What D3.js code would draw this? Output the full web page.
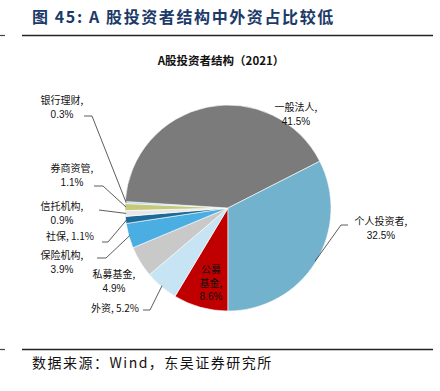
<!DOCTYPE html>
<html lang="zh">
<head>
<meta charset="UTF-8">
<title>A股投资者结构</title>
<style>
  body { margin: 0; background: #fff; }
  svg { display: block; }
  .cn { font-family: "Noto Sans CJK SC", sans-serif; }
  .num { font-family: "Liberation Sans", Arial, sans-serif; }
</style>
</head>
<body>
<svg width="440" height="391"></svg>
<script src="https://d3js.org/d3.v7.min.js"></script>
<script>
  const categories = ["公募基金", "外资", "私募基金", "保险机构", "社保", "信托机构", "券商资管", "银行理财", "一般法人", "个人投资者"];
  const values = [8.6, 5.2, 4.9, 3.9, 1.1, 0.9, 1.1, 0.3, 41.5, 32.5];
  const colors = ["#c00000", "#c6e4f4", "#c9c9c9", "#4aaee2", "#1b6a98", "#e8e8e8", "#c6c97c", "#a8d3e8", "#7b7b7b", "#73b2cc"];

  // label placement: centre x, first line y, lines, leader elbow
  const labelPos = {
    "银行理财": { x: 62, y: 104, lines: ["银行理财,", "0.3%"], lx: [84, 92], ly: 116 },
    "券商资管": { x: 72, y: 172, lines: ["券商资管,", "1.1%"], lx: [94, 103], ly: 186 },
    "信托机构": { x: 62, y: 210, lines: ["信托机构,", "0.9%"], lx: [99, 99], ly: 210 },
    "社保":     { x: 70, y: 240, lines: ["社保, 1.1%"], lx: [102, 108], ly: 242 },
    "保险机构": { x: 62, y: 259, lines: ["保险机构,", "3.9%"], lx: [97, 106], ly: 258 },
    "私募基金": { x: 114, y: 278, lines: ["私募基金,", "4.9%"] },
    "外资":     { x: 115, y: 312, lines: ["外资, 5.2%"], lx: [143, 150], ly: 310 },
    "一般法人": { x: 296, y: 111, lines: ["一般法人,", "41.5%"] },
    "个人投资者": { x: 381, y: 225, lines: ["个人投资者,", "32.5%"], lx: [348, 341], ly: 225 },
    "公募基金": { x: 211, y: 273, lines: ["公募", "基金,", "8.6%"] }
  };

  const svg = d3.select("svg");
  const cx = 228, cy = 208, r = 103;

  // header
  svg.append("text").attr("class", "cn")
    .attr("x", 32).attr("y", 23)
    .attr("font-size", 16).attr("font-weight", "bold").attr("fill", "#1c3a68")
    .attr("letter-spacing", 1.6)
    .text("图 45: A 股投资者结构中外资占比较低");
  svg.append("line").attr("x1", 22).attr("x2", 433).attr("y1", 35.5).attr("y2", 35.5)
    .attr("stroke", "#222").attr("stroke-width", 1.6);
  svg.append("line").attr("x1", 0).attr("x2", 5).attr("y1", 35.5).attr("y2", 35.5)
    .attr("stroke", "#444").attr("stroke-width", 1.2);

  svg.append("text").attr("class", "cn")
    .attr("x", 221).attr("y", 65).attr("text-anchor", "middle")
    .attr("font-size", 11.5).attr("font-weight", "bold").attr("fill", "#111")
    .text("A股投资者结构（2021）");

  const data = categories.map((c, i) => ({ name: c, value: values[i], color: colors[i] }));

  const pie = d3.pie().sort(null).value(d => d.value)
    .startAngle(Math.PI).endAngle(3 * Math.PI);
  const arc = d3.arc().innerRadius(0).outerRadius(r);
  const edge = d3.arc().innerRadius(r - 1).outerRadius(r - 1);

  const g = svg.append("g").attr("transform", `translate(${cx},${cy})`);
  const arcs = pie(data);

  g.selectAll("path").data(arcs).enter().append("path")
    .attr("d", arc)
    .attr("fill", d => d.data.color)
    .attr("stroke", "#fff")
    .attr("stroke-width", 0.6);

  // leader lines
  arcs.forEach(a => {
    const p = labelPos[a.data.name];
    if (!p.lx) return;
    const [ex, ey] = edge.centroid(a);
    svg.append("polyline")
      .attr("points", `${p.lx[0]},${p.ly} ${p.lx[1]},${p.ly} ${cx + ex},${cy + ey}`)
      .attr("fill", "none").attr("stroke", "#333").attr("stroke-width", 0.8);
  });

  // labels
  arcs.forEach(a => {
    const p = labelPos[a.data.name];
    const t = svg.append("text")
      .attr("text-anchor", "middle").attr("font-size", 10).attr("fill", "#111");
    p.lines.forEach((ln, i) => {
      t.append("tspan").attr("x", p.x).attr("y", p.y + i * 13.5)
        .attr("class", /^[\d.]+%$/.test(ln) ? "num" : "cn")
        .text(ln);
    });
  });

  // footer
  svg.append("line").attr("x1", 22).attr("x2", 433).attr("y1", 349.5).attr("y2", 349.5)
    .attr("stroke", "#222").attr("stroke-width", 1.6);
  svg.append("line").attr("x1", 0).attr("x2", 5).attr("y1", 349.5).attr("y2", 349.5)
    .attr("stroke", "#444").attr("stroke-width", 1.2);
  svg.append("text").attr("class", "cn")
    .attr("x", 32).attr("y", 368)
    .attr("font-size", 14).attr("fill", "#111").attr("letter-spacing", 1.5)
    .text("数据来源：Wind，东吴证券研究所");
</script>
</body>
</html>
